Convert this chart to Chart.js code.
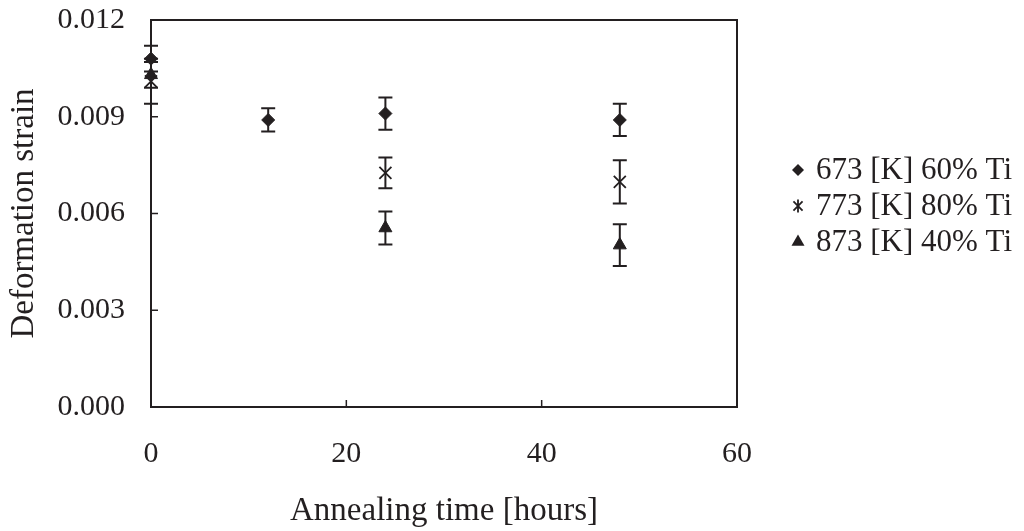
<!DOCTYPE html>
<html><head><meta charset="utf-8">
<script src="https://cdn.jsdelivr.net/npm/chart.js@4.4.1/dist/chart.umd.min.js"></script>
<style>html,body{margin:0;padding:0;background:#fff;} #wrap{width:1024px;height:531px;position:relative;}</style>
</head><body><div id="wrap"><canvas id="c" width="1024" height="531"></canvas></div>
<script>
const seriesNames = ['673 [K] 60% Ti', '773 [K] 80% Ti', '873 [K] 40% Ti'];
const hours673 = [0, 12, 24, 48];
const strain673 = [0.0108, 0.0089, 0.0091, 0.0089];
const err673 = [0.0004, 0.00036, 0.0005, 0.0005];
const hours773 = [0, 24, 48];
const strain773 = [0.0101, 0.00726, 0.00698];
const err773 = [0.0007, 0.00048, 0.00067];
const hours873 = [0, 24, 48];
const strain873 = [0.0103, 0.00555, 0.00502];
const err873 = [0.0004, 0.00051, 0.00065];
const xTickValues = [0, 20, 40, 60];
const yTickValues = [0, 0.003, 0.006, 0.009, 0.012];
const xTitle = 'Annealing time [hours]';
const yTitle = 'Deformation strain';

const INK = '#231f20';
const FONT = 'Liberation Serif';

function pts(xs, ys) { return xs.map((x, i) => ({x: x, y: ys[i]})); }

const errorBarPlugin = {
  id: 'errorBars',
  afterDatasetsDraw(chart) {
    const ctx = chart.ctx;
    const ys = chart.scales.y;
    ctx.save();
    ctx.strokeStyle = INK;
    ctx.lineWidth = 2;
    chart.data.datasets.forEach((ds, di) => {
      const meta = chart.getDatasetMeta(di);
      meta.data.forEach((el, i) => {
        const v = ds.data[i].y, e = ds.errors[i];
        const top = ys.getPixelForValue(v + e);
        const bot = ys.getPixelForValue(v - e);
        const x = el.x;
        ctx.beginPath();
        ctx.moveTo(x, top); ctx.lineTo(x, bot);
        ctx.moveTo(x - 7, top); ctx.lineTo(x + 7, top);
        ctx.moveTo(x - 7, bot); ctx.lineTo(x + 7, bot);
        ctx.stroke();
      });
    });
    ctx.restore();
  }
};

const framePlugin = {
  id: 'frame',
  afterDraw(chart) {
    const {ctx, chartArea: a, scales} = chart;
    ctx.save();
    ctx.strokeStyle = INK;
    ctx.lineWidth = 2;
    ctx.beginPath();
    ctx.moveTo(a.left - 1, a.top); ctx.lineTo(a.right, a.top); ctx.lineTo(a.right, a.bottom + 1);
    ctx.stroke();
    ctx.lineWidth = 1.5;
    ctx.beginPath();
    yTickValues.forEach(v => {
      const y = scales.y.getPixelForValue(v);
      ctx.moveTo(a.left, y); ctx.lineTo(a.left + 7, y);
    });
    xTickValues.forEach(v => {
      const x = scales.x.getPixelForValue(v);
      ctx.moveTo(x, a.bottom); ctx.lineTo(x, a.bottom - 7);
    });
    ctx.stroke();
    ctx.restore();
  }
};

function drawMarker(ctx, style, x, y, r) {
  ctx.beginPath();
  if (style === 'diamond') {
    ctx.moveTo(x - r, y); ctx.lineTo(x, y - r); ctx.lineTo(x + r, y); ctx.lineTo(x, y + r); ctx.closePath(); ctx.fill();
  } else if (style === 'triangle') {
    const w = r * 0.866;
    ctx.moveTo(x, y - r); ctx.lineTo(x + w, y + r / 2); ctx.lineTo(x - w, y + r / 2); ctx.closePath(); ctx.fill();
  } else {
    const d = r * 0.7;
    ctx.moveTo(x - d, y - d); ctx.lineTo(x + d, y + d);
    ctx.moveTo(x + d, y - d); ctx.lineTo(x - d, y + d);
    ctx.moveTo(x, y - r); ctx.lineTo(x, y + r);
    ctx.stroke();
  }
}

const legendPlugin = {
  id: 'customLegend',
  afterDraw(chart) {
    const {ctx, chartArea: a} = chart;
    const styles = ['diamond', 'asterisk', 'triangle'];
    const sizes = [6, 6.5, 7.5];
    const mid = (a.top + a.bottom) / 2 - 7.5;
    const gap = 36;
    ctx.save();
    ctx.fillStyle = INK; ctx.strokeStyle = INK; ctx.lineWidth = 1.8;
    ctx.font = '31px "' + FONT + '"';
    ctx.textBaseline = 'middle';
    ctx.textAlign = 'left';
    seriesNames.forEach((name, i) => {
      const y = mid + (i - 1) * gap;
      drawMarker(ctx, styles[i], a.right + 61, y, sizes[i]);
      ctx.fillText(name, a.right + 79, y + 1);
    });
    ctx.restore();
  }
};

new Chart(document.getElementById('c'), {
  type: 'scatter',
  data: {
    datasets: [
      {label: seriesNames[0], data: pts(hours673, strain673), errors: err673, pointStyle: 'rectRot', pointRadius: 6.5, backgroundColor: INK, borderColor: INK, borderWidth: 1, clip: false},
      {label: seriesNames[1], data: pts(hours773, strain773), errors: err773, pointStyle: 'crossRot', pointRadius: 8.5, backgroundColor: INK, borderColor: INK, borderWidth: 1.8, clip: false},
      {label: seriesNames[2], data: pts(hours873, strain873), errors: err873, pointStyle: 'triangle', pointRadius: 7.5, backgroundColor: INK, borderColor: INK, borderWidth: 1, clip: false}
    ]
  },
  options: {
    responsive: false,
    animation: false,
    layout: {padding: {left: 0, top: 20, right: 287, bottom: 0}},
    plugins: {legend: {display: false}, tooltip: {enabled: false}},
    scales: {
      x: {
        type: 'linear', min: 0, max: 60,
        afterBuildTicks(s) { s.ticks = xTickValues.map(v => ({value: v})); },
        afterFit(s) { s.height = 124; s.paddingLeft = 0; s.paddingRight = 0; },
        ticks: {padding: 29, color: INK, font: {family: FONT, size: 30}, callback: v => String(v), maxRotation: 0},
        grid: {display: false, drawTicks: false},
        border: {display: true, color: INK, width: 2},
        title: {display: true, text: xTitle, color: INK, font: {family: FONT, size: 33}, padding: {top: 0, bottom: 0}}
      },
      y: {
        type: 'linear', min: 0, max: 0.012,
        afterBuildTicks(s) { s.ticks = yTickValues.map(v => ({value: v})); },
        afterFit(s) { s.width = 151; s.paddingTop = 0; s.paddingBottom = 0; },
        ticks: {padding: 26, color: INK, font: {family: FONT, size: 30}, callback: v => Number(v).toFixed(3)},
        grid: {display: false, drawTicks: false},
        border: {display: true, color: INK, width: 2},
        title: {display: true, text: yTitle, color: INK, font: {family: FONT, size: 33}, padding: {top: 5, bottom: 0}}
      }
    }
  },
  plugins: [errorBarPlugin, framePlugin, legendPlugin]
});
</script>
</body></html>
